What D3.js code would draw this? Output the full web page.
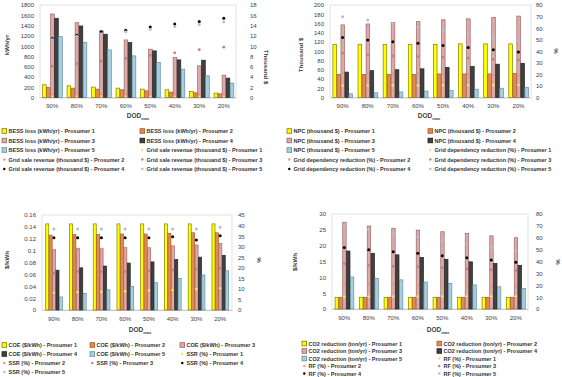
<!DOCTYPE html>
<html><head><meta charset="utf-8">
<script src="https://cdn.jsdelivr.net/npm/d3@7"></script>
<style>
html,body{margin:0;padding:0;background:#fff;}
svg{display:block;font-family:"Liberation Sans",Arial,sans-serif;}
</style></head>
<body>
<svg id="c" width="562" height="377"></svg>
<script>
// ---------------- DATA ----------------
const dodLabels = ["90%","80%","70%","60%","50%","40%","30%","20%"];
const prosumers = ["Prosumer 1","Prosumer 2","Prosumer 3","Prosumer 4","Prosumer 5"];

// Panel 1: BESS loss (kWh/yr) and grid sale revenue (thousand $)
const bessLossP1 = [247,227,202,182,163,150,117,85];
const bessLossP2 = [194,182,163,150,130,105,91,71];
const bessLossP3 = [1625,1456,1295,1120,940,777,615,435];
const bessLossP4 = [1542,1392,1231,1068,907,732,726,377];
const bessLossP5 = [1184,1068,926,810,680,551,421,280];
const gridSaleP1 = [0.3,0.3,0.3,0.3,0.3,0.3,0.3,0.3];
const gridSaleP2 = [0.6,0.6,0.6,0.6,0.6,0.6,0.6,0.6];
const gridSaleP3 = [6.1,6.6,7.1,7.6,8.2,8.7,9.3,9.8];
const gridSaleP4 = [11.5,12.1,12.8,13.1,13.7,14.3,14.8,15.4];
const gridSaleP5 = [11.3,11.9,12.4,12.8,13.3,13.8,14.2,14.7];

// Panel 2: NPC (thousand $) and grid dependency reduction (%)
const npcP1 = [115,115,115,115,115,116,116,116];
const npcP2 = [50,50,50,50,51,51,51,52];
const npcP3 = [157,159,162,164,168,170,173,176];
const npcP4 = [55,58,60,62,65,67,72,74];
const npcP5 = [8,10,12,14,15,18,20,22];
const gdrP1 = [10.4,10.4,10.5,10.5,10.6,10.6,10.7,10.8];
const gdrP2 = [21.6,21.2,20.8,20.4,20.0,19.6,19.2,18.8];
const gdrP3 = [38.3,36.8,36.0,35.4,34.9,34.0,33.0,32.5];
const gdrP4 = [51.8,49.8,48.3,47.0,44.9,43.2,41.2,39.4];
const gdrP5 = [69.9,67.0,64.0,61.0,58.0,55.0,52.0,49.0];

// Panel 3: COE ($/kWh) and SSR (%)
const coeP1 = [0.145,0.145,0.145,0.145,0.145,0.145,0.145,0.145];
const coeP2 = [0.126,0.127,0.127,0.128,0.128,0.129,0.130,0.130];
const coeP3 = [0.102,0.104,0.104,0.105,0.105,0.108,0.1095,0.112];
const coeP4 = [0.067,0.071,0.074,0.079,0.081,0.085,0.089,0.092];
const coeP5 = [0.022,0.028,0.034,0.040,0.046,0.053,0.059,0.066];
const ssrP1 = [8.2,8.4,8.6,8.9,9.2,9.5,9.9,10.3];
const ssrP2 = [28.4,28.6,28.8,29.0,29.2,29.5,29.8,30.0];
const ssrP3 = [17.4,18.2,18.2,18.2,18.6,18.9,19.3,19.7];
const ssrP4 = [34.2,34.2,34.2,34.2,34.2,34.7,33.2,35.2];
const ssrP5 = [38.4,38.4,38.4,38.4,38.4,38.4,38.4,39.2];

// Panel 4: CO2 reduction (ton/yr) and RF (%)
const co2P1 = [3.7,3.7,3.7,3.7,3.7,3.7,3.7,3.7];
const co2P2 = [3.7,3.7,3.7,3.7,3.7,3.7,3.7,3.7];
const co2P3 = [27.4,26.2,25.5,24.9,24.4,23.9,23.1,22.5];
const co2P4 = [18.3,17.6,17.1,16.3,15.7,14.9,14.4,13.8];
const co2P5 = [10.1,9.7,9.2,8.5,8.1,7.6,7.0,6.5];
const rfP1 = [10.4,10.4,10.5,10.5,10.6,10.6,10.7,10.8];
const rfP2 = [21.6,21.2,20.8,20.4,20.0,19.6,19.2,18.8];
const rfP3 = [38.3,36.8,36.0,35.4,34.9,34.0,33.0,32.5];
const rfP4 = [51.8,49.8,48.3,47.0,44.9,43.2,41.2,39.4];
const rfP5 = [69.9,67.0,64.0,61.0,58.0,55.0,52.0,49.0];

// ---------------- STYLE ----------------
const barFill   = ["#FFFF00","#E58A4E","#DBAAA9","#404040","#A9CEDD"];
const barStroke = ["#7F7F00","#A85A26","#9E6664","#222222","#5F8FA3"];
const markFill  = ["#F2E36A","#E39A78","#C87D7D","#000000","#B4BDD6"];
const markR     = [1.3,1.3,1.4,1.5,1.5];

const svg = d3.select("#c");

function fmt(v){ return String(+v.toFixed(2)); }

function drawPanel(o){
  const g = svg.append("g");
  const x0 = d3.scaleBand().domain(dodLabels).range([o.left,o.right]).paddingInner(o.pad).paddingOuter(o.pad/2);
  const x1 = d3.scaleBand().domain(d3.range(5)).range([0,x0.bandwidth()]);
  const y  = d3.scaleLinear().domain([0,o.yMax]).range([o.bottom,o.top]);
  const y2 = d3.scaleLinear().domain([0,o.y2Max]).range([o.bottom,o.top]);

  g.append("rect").attr("x",o.left).attr("y",o.top).attr("width",o.right-o.left).attr("height",o.bottom-o.top)
    .attr("fill","none").attr("stroke","#D9D9D9").attr("stroke-width",0.8);

  const la = d3.axisLeft(y).tickValues(d3.range(0,o.yMax+o.yStep/2,o.yStep)).tickFormat(fmt).tickSize(0).tickPadding(o.lpad);
  const lg = g.append("g").attr("transform",`translate(${o.left},0)`).call(la);
  lg.select(".domain").remove();
  lg.selectAll("text").attr("font-size",6).attr("fill","#404040").attr("font-family","Liberation Sans, Arial");

  const ra = d3.axisRight(y2).tickValues(d3.range(0,o.y2Max+o.y2Step/2,o.y2Step)).tickFormat(fmt).tickSize(0).tickPadding(o.rpad);
  const rg = g.append("g").attr("transform",`translate(${o.right},0)`).call(ra);
  rg.select(".domain").remove();
  rg.selectAll("text").attr("font-size",6).attr("fill","#404040").attr("font-family","Liberation Sans, Arial");

  const ba = d3.axisBottom(x0).tickSize(0).tickPadding(o.bpad);
  const bg = g.append("g").attr("transform",`translate(0,${o.bottom})`).call(ba);
  bg.select(".domain").attr("stroke","#BFBFBF").attr("stroke-width",0.8);
  bg.selectAll("text").attr("font-size",6).attr("fill","#404040").attr("font-family","Liberation Sans, Arial");

  o.bars.forEach((arr,s)=>{
    g.append("g").selectAll("rect").data(arr).join("rect")
      .attr("x",(d,i)=>x0(dodLabels[i])+x1(s)+0.4)
      .attr("y",d=>y(d))
      .attr("width",x1.bandwidth()-0.4)
      .attr("height",d=>o.bottom-y(d))
      .attr("fill",barFill[s]).attr("stroke",barStroke[s]).attr("stroke-width",0.7);
  });
  o.marks.forEach((arr,s)=>{
    g.append("g").selectAll("circle").data(arr).join("circle")
      .attr("cx",(d,i)=>x0(dodLabels[i])+x0.bandwidth()/2)
      .attr("cy",d=>y2(d))
      .attr("r",markR[s])
      .attr("fill",markFill[s]);
  });

  g.append("text").attr("transform",`translate(${o.ltx},${o.lty}) rotate(-90)`).attr("text-anchor","middle")
    .attr("font-size",6.2).attr("font-weight","bold").attr("fill","#404040").text(o.ltitle);
  g.append("text").attr("transform",`translate(${o.rtx},${o.rty}) rotate(90)`).attr("text-anchor","middle")
    .attr("font-size",6.2).attr("font-weight","bold").attr("fill","#404040").text(o.rtitle);
  const dt = g.append("text").attr("x",o.dx).attr("y",o.dy).attr("text-anchor","middle")
    .attr("font-size",6.5).attr("font-weight","bold").attr("fill","#404040");
  dt.append("tspan").text("DOD");
  dt.append("tspan").attr("font-size",4).attr("dy",1.5).text("max");

  o.legend.forEach(it=>{
    const lgI = g.append("g").attr("transform",`translate(${it.x},${it.y})`);
    if(it.type==="bar"){
      lgI.append("rect").attr("x",0).attr("y",-2.3).attr("width",4.6).attr("height",4.6)
        .attr("fill",barFill[it.s]).attr("stroke",barStroke[it.s]).attr("stroke-width",0.8);
    } else {
      lgI.append("circle").attr("cx",2.3).attr("cy",0).attr("r",1.2).attr("fill",markFill[it.s]);
    }
    lgI.append("text").attr("x",6.5).attr("y",2).attr("font-size",5.5).attr("font-weight","bold")
      .attr("fill","#333333").text(it.label);
  });
}

function legendItems(barName, markName, positions){
  const items = [];
  prosumers.forEach((p,s)=>items.push({type:"bar",s,label:`${barName} - ${p}`}));
  prosumers.forEach((p,s)=>items.push({type:"mark",s,label:`${markName} - ${p}`}));
  return items.map((it,i)=>Object.assign(it,positions(i)));
}

drawPanel({
  left:40,right:236,top:5,bottom:97.5,pad:0.18,
  yMax:1800,yStep:200,y2Max:18,y2Step:2,lpad:6,rpad:14,bpad:6,
  bars:[bessLossP1,bessLossP2,bessLossP3,bessLossP4,bessLossP5],
  marks:[gridSaleP1,gridSaleP2,gridSaleP3,gridSaleP4,gridSaleP5],
  ltitle:"kWh/yr",ltx:9,lty:45,rtitle:"Thousand $",rtx:264,rty:67,
  dx:138,dy:118,
  legend:legendItems("BESS loss (kWh/yr)","Grid sale revenue (thousand $)",
    i=>({x: i%2===0?2:140, y: 131+Math.floor(i/2)*9.5}))
});
drawPanel({
  left:330,right:531,top:5,bottom:97.5,pad:0.2,
  yMax:200,yStep:20,y2Max:80,y2Step:10,lpad:6,rpad:5,bpad:6,
  bars:[npcP1,npcP2,npcP3,npcP4,npcP5],
  marks:[gdrP1,gdrP2,gdrP3,gdrP4,gdrP5],
  ltitle:"Thousand $",ltx:303,lty:55,rtitle:"%",rtx:554,rty:51,
  dx:429,dy:118,
  legend:legendItems("NPC (thousand $)","Grid dependency reduction (%)",
    i=>({x: i%2===0?287:428, y: 131+Math.floor(i/2)*9.5}))
});
drawPanel({
  left:42,right:232,top:215,bottom:310,pad:0.28,
  yMax:0.16,yStep:0.02,y2Max:45,y2Step:5,lpad:6,rpad:6,bpad:7,
  bars:[coeP1,coeP2,coeP3,coeP4,coeP5],
  marks:[ssrP1,ssrP2,ssrP3,ssrP4,ssrP5],
  ltitle:"$/kWh",ltx:9,lty:260,rtitle:"%",rtx:257,rty:260,
  dx:140,dy:332,
  legend:legendItems("COE ($/kWh)","SSR (%)",
    i=>({x: [2,90,180][i%3], y: 345+Math.floor(i/3)*9}))
});
drawPanel({
  left:332,right:528,top:214,bottom:309,pad:0.22,
  yMax:30,yStep:5,y2Max:80,y2Step:10,lpad:6,rpad:8,bpad:7,
  bars:[co2P1,co2P2,co2P3,co2P4,co2P5],
  marks:[rfP1,rfP2,rfP3,rfP4,rfP5],
  ltitle:"$/kWh",ltx:297,lty:262,rtitle:"%",rtx:556,rty:262,
  dx:438,dy:332,
  legend:legendItems("CO2 reduction (ton/yr)","RF (%)",
    i=>({x: i%2===0?302:437, y: 343.5+Math.floor(i/2)*7.5}))
});
</script>
</body></html>
